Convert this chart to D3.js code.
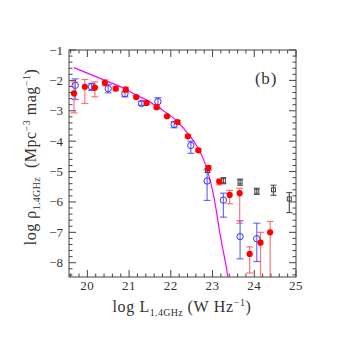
<!DOCTYPE html>
<html>
<head>
<meta charset="utf-8">
<script src="https://cdn.jsdelivr.net/npm/d3@7/dist/d3.min.js"></script>
<style>
html,body{margin:0;padding:0;background:#fff;}
svg{display:block;}
</style>
</head>
<body>
<svg id="chart" width="346" height="346"></svg>
<script>
// ---- data ----
const redX  = [19.68,19.94,20.18,20.42,20.68,20.92,21.17,21.42,21.66,21.91,22.16,22.41,22.66,22.90,23.16,23.41,23.65,23.89,24.15,24.38];
const redY  = [-2.43,-2.21,-2.24,-2.08,-2.27,-2.30,-2.55,-2.74,-2.88,-3.18,-3.37,-3.84,-4.30,-4.88,-5.33,-5.77,-5.71,-7.71,-7.34,-7.00];
const redHi = [-2.05,-1.97,-2.05,-1.98,-2.20,-2.22,-2.50,-2.70,-2.82,-3.14,-3.32,-3.79,-4.25,-4.81,-5.25,-5.62,-5.55,-7.48,-7.00,-6.64];
const redLo = [-3.07,-2.76,-2.54,-2.18,-2.34,-2.40,-2.60,-2.78,-2.94,-3.22,-3.42,-3.89,-4.35,-4.95,-5.44,-6.06,-6.70,-8.34,-9.00,-9.00];

const blueX  = [19.71,20.10,20.50,20.90,21.30,21.69,22.08,22.48,22.87,23.26,23.66,24.06];
const blueY  = [-2.16,-2.21,-2.27,-2.44,-2.76,-2.70,-3.45,-4.14,-5.31,-5.94,-7.14,-7.21];
const blueHi = [-1.95,-2.10,-2.14,-2.36,-2.69,-2.57,-3.36,-4.00,-4.94,-5.71,-6.62,-6.70];
const blueLo = [-2.63,-2.33,-2.41,-2.54,-2.82,-2.91,-3.56,-4.40,-5.95,-6.50,-7.87,-7.96];

const grayX  = [22.88,23.26,23.66,24.06,24.46,24.84];
const grayY  = [-4.96,-5.30,-5.34,-5.65,-5.60,-5.90];
const grayHi = [-4.90,-5.20,-5.25,-5.55,-5.45,-5.69];
const grayLo = [-5.03,-5.40,-5.45,-5.75,-5.78,-6.35];

const lineX = [19.68,20.00,20.42,20.90,21.17,21.42,21.66,21.91,22.16,22.41,22.66,22.86,23.03,23.19,23.34,23.37];
const lineY = [-1.58,-1.76,-2.00,-2.28,-2.48,-2.65,-2.85,-3.08,-3.36,-3.75,-4.25,-4.88,-5.82,-7.14,-8.24,-8.50];

const xTicks = [20,21,22,23,24,25];
const yTicks = [-1,-2,-3,-4,-5,-6,-7,-8];
const panelLabel = "(b)";

// ---- layout ----
const L = 69, R = 296, T = 50, B = 277;
const svg = d3.select("#chart");
const x = d3.scaleLinear().domain([19.56, 25]).range([L, R]);
const y = d3.scaleLinear().domain([-8.47, -1]).range([B, T]);
const font = "'Liberation Serif', 'DejaVu Serif', serif";
const axisCol = "#444";

svg.append("defs").append("clipPath").attr("id","clip")
  .append("rect").attr("x",L).attr("y",T).attr("width",R-L).attr("height",B-T);

// frame
svg.append("rect").attr("x",L).attr("y",T).attr("width",R-L).attr("height",B-T)
  .attr("fill","none").attr("stroke",axisCol).attr("stroke-width",1);

// ticks (inside, all four sides)
const xMinor = d3.range(19.6, 25.001, 0.2).map(v=>+v.toFixed(1));
const yMinor = d3.range(-8.4, -0.999, 0.2).map(v=>+v.toFixed(1));
const tk = svg.append("g").attr("stroke",axisCol).attr("stroke-width",1);
xMinor.forEach(v=>{
  const major = Math.abs(v-Math.round(v))<1e-6;
  const len = major?7:3.5;
  const px = x(v);
  tk.append("line").attr("x1",px).attr("x2",px).attr("y1",B).attr("y2",B-len);
  tk.append("line").attr("x1",px).attr("x2",px).attr("y1",T).attr("y2",T+len);
});
yMinor.forEach(v=>{
  const major = Math.abs(v-Math.round(v))<1e-6;
  const len = major?7:3.5;
  const py = y(v);
  tk.append("line").attr("x1",L).attr("x2",L+len).attr("y1",py).attr("y2",py);
  tk.append("line").attr("x1",R).attr("x2",R-len).attr("y1",py).attr("y2",py);
});

// tick labels
svg.append("g").selectAll("text").data(xTicks).join("text")
  .attr("x",d=>x(d)).attr("y",290).attr("text-anchor","middle")
  .attr("font-family",font).attr("font-size",13).attr("fill","#333")
  .attr("letter-spacing",0.5)
  .text(d=>d);
svg.append("g").selectAll("text").data(yTicks).join("text")
  .attr("x",63).attr("y",d=>y(d)+4.5).attr("text-anchor","end")
  .attr("font-family",font).attr("font-size",13).attr("fill","#333")
  .text(d=>"\u2212"+Math.abs(d));

// axis labels
const xl = svg.append("text").attr("x",182).attr("y",312).attr("text-anchor","middle")
  .attr("font-family",font).attr("font-size",16).attr("fill","#333").attr("letter-spacing",0.6);
xl.append("tspan").text("log\u00a0L");
xl.append("tspan").attr("font-size",10).attr("dy",4).attr("letter-spacing",0.3).text("1.4GHz");
xl.append("tspan").attr("dy",-4).text("\u00a0(W\u00a0Hz");
xl.append("tspan").attr("font-size",10).attr("dy",-6).text("\u22121");
xl.append("tspan").attr("dy",6).text(")");

const yl = svg.append("text").attr("transform","translate(36,157) rotate(-90)")
  .attr("text-anchor","middle")
  .attr("font-family",font).attr("font-size",16).attr("fill","#333").attr("letter-spacing",0.5);
yl.append("tspan").text("log\u00a0\u03c1");
yl.append("tspan").attr("font-size",10).attr("dy",4).attr("letter-spacing",0.3).text("1.4GHz");
yl.append("tspan").attr("dy",-4).text("\u00a0\u00a0(Mpc");
yl.append("tspan").attr("font-size",10).attr("dy",-6).text("\u22123");
yl.append("tspan").attr("dy",6).text("\u00a0mag");
yl.append("tspan").attr("font-size",10).attr("dy",-6).text("\u22121");
yl.append("tspan").attr("dy",6).text(")");

svg.append("text").attr("x",266).attr("y",84).attr("text-anchor","middle")
  .attr("font-family",font).attr("font-size",17).attr("fill","#333").attr("letter-spacing",0.8).text(panelLabel);

const g = svg.append("g").attr("clip-path","url(#clip)");

// model line
const lineData = lineX.map((v,i)=>[v,lineY[i]]);
g.append("path").datum(lineData)
  .attr("d", d3.line().x(d=>x(d[0])).y(d=>y(d[1])).curve(d3.curveMonotoneX))
  .attr("fill","none").attr("stroke","#ff00ff").attr("stroke-width",1.2);

function errBars(xs, ys, his, los, col, cap) {
  const eg = g.append("g").attr("stroke",col).attr("stroke-width",1.2);
  xs.forEach((v,i)=>{
    const px = x(v);
    eg.append("line").attr("x1",px).attr("x2",px).attr("y1",y(his[i])).attr("y2",y(los[i]));
    eg.append("line").attr("x1",px-cap).attr("x2",px+cap).attr("y1",y(his[i])).attr("y2",y(his[i]));
    eg.append("line").attr("x1",px-cap).attr("x2",px+cap).attr("y1",y(los[i])).attr("y2",y(los[i]));
  });
}

// gray squares
errBars(grayX, grayY, grayHi, grayLo, "#555", 3);
g.append("g").selectAll("rect").data(grayX).join("rect")
  .attr("x",(d)=>x(d)-2).attr("y",(d,i)=>y(grayY[i])-2).attr("width",4).attr("height",4)
  .attr("fill","none").attr("stroke","#444").attr("stroke-width",1);

// blue open circles
errBars(blueX, blueY, blueHi, blueLo, "rgba(60,60,255,0.75)", 3.5);
g.append("g").selectAll("circle").data(blueX).join("circle")
  .attr("cx",d=>x(d)).attr("cy",(d,i)=>y(blueY[i])).attr("r",3.2)
  .attr("fill","none").attr("stroke","#3333ff").attr("stroke-width",1);

// red filled circles
errBars(redX, redY, redHi, redLo, "rgba(255,60,60,0.7)", 3.5);
g.append("g").selectAll("circle").data(redX).join("circle")
  .attr("cx",d=>x(d)).attr("cy",(d,i)=>y(redY[i])).attr("r",3.1)
  .attr("fill","#ff0000");
</script>
</body>
</html>
